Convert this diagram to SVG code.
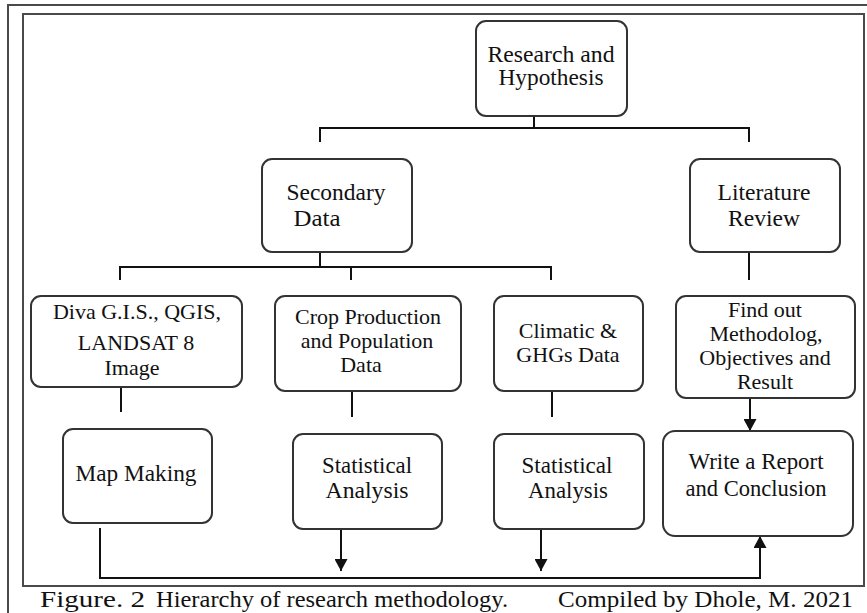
<svg xmlns="http://www.w3.org/2000/svg" width="867" height="613" viewBox="0 0 867 613">
<style>
.frame{fill:none;stroke:#4a4a4a;stroke-width:2}
.box{fill:#fff;stroke:#333;stroke-width:2}
.t{font-family:"Liberation Serif","Times New Roman",serif;font-size:23px;fill:#111;text-anchor:middle}
.t3{font-family:"Liberation Serif","Times New Roman",serif;font-size:22px;fill:#111;text-anchor:middle}
.cap{font-family:"Liberation Serif","Times New Roman",serif;font-size:23px;fill:#111}
.ln{fill:none;stroke:#111;stroke-width:2}
</style>
<defs>
<marker id="ah" viewBox="0 0 12 13" refX="12" refY="6.5" markerWidth="12" markerHeight="13" markerUnits="userSpaceOnUse" orient="auto">
<path d="M0,0 L12,6.5 L0,13 Z" fill="#111"/>
</marker>
</defs>
<rect width="867" height="613" fill="#fff"/>
<path class="frame" d="M8,613 V5 H870"/>
<rect class="frame" x="23" y="14" width="841" height="572"/>

<g id="connectors">
<path class="ln" d="M534,116 V128 M320,142 V128 H749 V142"/>
<path class="ln" d="M320,252 V267 M120,280 V267 H551 V280 M351,267 V280"/>
<path class="ln" d="M749,252 V280"/>
<path class="ln" d="M121,387 V412"/>
<path class="ln" d="M352,391 V417"/>
<path class="ln" d="M552,391 V417"/>
<path class="ln" d="M341,529 V571" marker-end="url(#ah)"/>
<path class="ln" d="M541,529 V571" marker-end="url(#ah)"/>
<path class="ln" d="M750,398 V431" marker-end="url(#ah)"/>
<path class="ln" d="M100,528 V578 H760 V536" marker-end="url(#ah)"/>
</g>

<g id="research">
<rect class="box" x="476" y="21" width="151" height="95" rx="10"/>
<text class="t" x="551" y="62" textLength="127" lengthAdjust="spacingAndGlyphs">Research and</text>
<text class="t" x="551" y="85" textLength="105" lengthAdjust="spacingAndGlyphs">Hypothesis</text>
</g>

<g id="secondary">
<rect class="box" x="262" y="159" width="150" height="93" rx="10"/>
<text class="t" x="336" y="200" textLength="99" lengthAdjust="spacingAndGlyphs">Secondary</text>
<text class="t" x="317" y="226" textLength="47" lengthAdjust="spacingAndGlyphs">Data</text>
</g>

<g id="literature">
<rect class="box" x="690" y="159" width="150" height="93" rx="10"/>
<text class="t" x="764" y="200" textLength="93" lengthAdjust="spacingAndGlyphs">Literature</text>
<text class="t" x="764" y="226" textLength="72" lengthAdjust="spacingAndGlyphs">Review</text>
</g>

<g id="diva">
<rect class="box" x="31" y="296" width="211" height="91" rx="10"/>
<text class="t3" x="137" y="319">Diva G.I.S., QGIS,</text>
<text class="t3" x="136" y="350">LANDSAT 8</text>
<text class="t3" x="132" y="375">Image</text>
</g>

<g id="crop">
<rect class="box" x="275" y="296" width="186" height="95" rx="10"/>
<text class="t3" x="368" y="324">Crop Production</text>
<text class="t3" x="367" y="348">and Population</text>
<text class="t3" x="361" y="372">Data</text>
</g>

<g id="climatic">
<rect class="box" x="494" y="296" width="149" height="95" rx="10"/>
<text class="t3" x="568" y="338">Climatic &amp;</text>
<text class="t3" x="568" y="362">GHGs Data</text>
</g>

<g id="findout">
<rect class="box" x="676" y="296" width="179" height="102" rx="10"/>
<text class="t3" x="765" y="317">Find out</text>
<text class="t3" x="766" y="341">Methodolog,</text>
<text class="t3" x="765" y="365">Objectives and</text>
<text class="t3" x="765" y="389">Result</text>
</g>

<g id="mapmaking">
<rect class="box" x="63" y="429" width="149" height="94" rx="10"/>
<text class="t" x="136" y="481" textLength="121" lengthAdjust="spacingAndGlyphs">Map Making</text>
</g>

<g id="stat1">
<rect class="box" x="293" y="434" width="149" height="95" rx="10"/>
<text class="t" x="367" y="473" textLength="90" lengthAdjust="spacingAndGlyphs">Statistical</text>
<text class="t" x="367" y="498" textLength="83" lengthAdjust="spacingAndGlyphs">Analysis</text>
</g>

<g id="stat2">
<rect class="box" x="494" y="434" width="150" height="95" rx="10"/>
<text class="t" x="567" y="473" textLength="91" lengthAdjust="spacingAndGlyphs">Statistical</text>
<text class="t" x="568" y="498" textLength="80" lengthAdjust="spacingAndGlyphs">Analysis</text>
</g>

<g id="report">
<rect class="box" x="663" y="431" width="190" height="105" rx="12"/>
<text class="t" x="756" y="469" textLength="135" lengthAdjust="spacingAndGlyphs">Write a Report</text>
<text class="t" x="756" y="496" textLength="141" lengthAdjust="spacingAndGlyphs">and Conclusion</text>
</g>

<g id="caption">
<text class="cap" x="40" y="607" textLength="105" lengthAdjust="spacingAndGlyphs">Figure. 2</text>
<text class="cap" x="156" y="607" textLength="352" lengthAdjust="spacingAndGlyphs">Hierarchy of research methodology.</text>
<text class="cap" x="558" y="607" textLength="295" lengthAdjust="spacingAndGlyphs">Compiled by Dhole, M. 2021</text>
</g>
</svg>
